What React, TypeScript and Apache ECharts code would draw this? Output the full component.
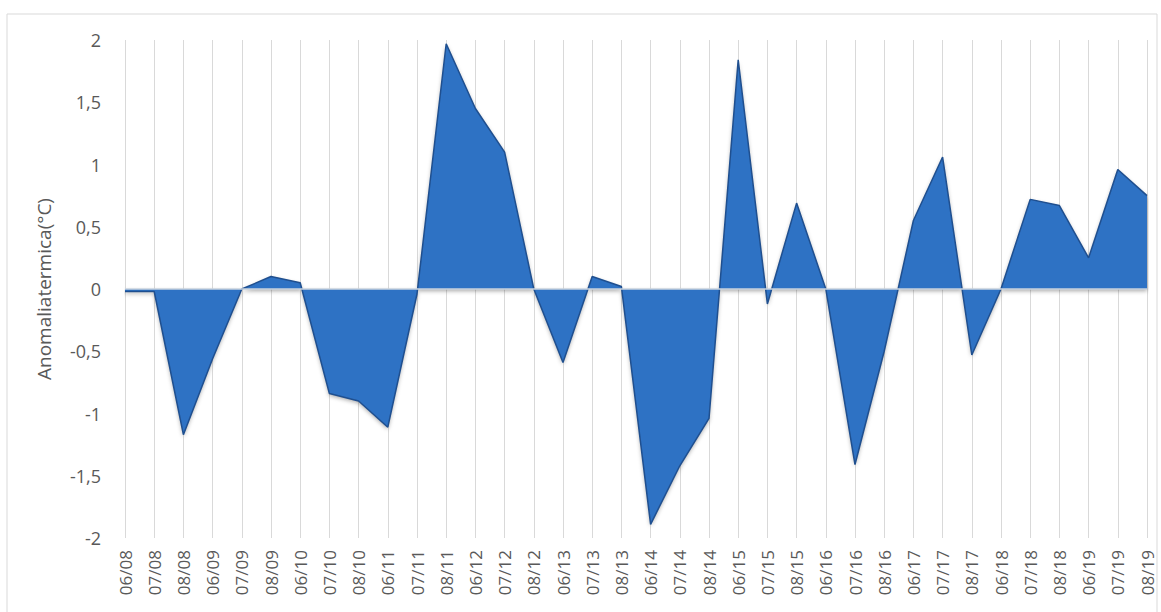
import React, { useEffect, useRef } from "react";
import * as echarts from "echarts";

const categories: string[] = [
  "06/08", "07/08", "08/08", "06/09", "07/09", "08/09", "06/10", "07/10", "08/10",
  "06/11", "07/11", "08/11", "06/12", "07/12", "08/12", "06/13", "07/13", "08/13",
  "06/14", "07/14", "08/14", "06/15", "07/15", "08/15", "06/16", "07/16", "08/16",
  "06/17", "07/17", "08/17", "06/18", "07/18", "08/18", "06/19", "07/19", "08/19",
];

const anomaly: number[] = [
  -0.02, -0.02, -1.17, -0.56, 0.0, 0.1, 0.05, -0.84, -0.9,
  -1.11, -0.04, 1.97, 1.45, 1.1, 0.0, -0.59, 0.1, 0.02,
  -1.89, -1.42, -1.04, 1.84, -0.12, 0.69, 0.0, -1.41, -0.5,
  0.55, 1.06, -0.53, 0.0, 0.72, 0.67, 0.25, 0.96, 0.75,
];

const yTicks = { min: -2, max: 2, interval: 0.5 };
const yAxisTitle = "Anomaliatermica(°C)";

export default function App() {
  const ref = useRef<HTMLDivElement>(null);

  useEffect(() => {
    if (!ref.current) return;
    const chart = echarts.init(ref.current, undefined, { renderer: "svg" });
    const font = "'Open Sans', 'Noto Sans', sans-serif";
    chart.setOption({
      animation: false,
      backgroundColor: "#ffffff",
      textStyle: { fontFamily: font },
      graphic: [
        {
          type: "rect",
          shape: { x: 7, y: 14, width: 1150, height: 600 },
          style: { fill: "none", stroke: "#d9d9d9", lineWidth: 1 },
          silent: true,
          z: -1,
        },
      ],
      grid: { left: 125, right: 14, top: 40, bottom: 74 },
      xAxis: {
        type: "category",
        data: categories,
        boundaryGap: false,
        axisLine: { show: false, onZero: false },
        axisTick: { show: false },
        axisLabel: {
          interval: 0,
          rotate: 90,
          color: "#595959",
          fontSize: 17,
          margin: 12,
          fontFamily: font,
        },
        splitLine: { show: true, lineStyle: { color: "#d9d9d9", width: 1 } },
      },
      yAxis: {
        type: "value",
        min: yTicks.min,
        max: yTicks.max,
        interval: yTicks.interval,
        name: yAxisTitle,
        nameLocation: "middle",
        nameGap: 72,
        nameTextStyle: { color: "#595959", fontSize: 19, fontFamily: font },
        axisLine: { show: false },
        axisTick: { show: false },
        splitLine: { show: false },
        axisLabel: {
          color: "#595959",
          fontSize: 18,
          margin: 24,
          fontFamily: font,
          formatter: (v: number) => String(v).replace(".", ","),
        },
      },
      series: [
        {
          type: "line",
          data: anomaly,
          symbol: "none",
          lineStyle: { color: "#1f4f8f", width: 1.5 },
          areaStyle: {
            color: "#2f72c4",
            opacity: 1,
            shadowColor: "rgba(0,0,0,0.35)",
            shadowBlur: 4,
            shadowOffsetY: 2,
          },
          markLine: {
            silent: true,
            symbol: "none",
            label: { show: false },
            lineStyle: { color: "#c9d3df", type: "solid", width: 1.5 },
            data: [{ yAxis: 0 }],
          },
        },
      ],
    });
    return () => chart.dispose();
  }, []);

  return (
    <div
      ref={ref}
      style={{ position: "absolute", left: 0, top: 0, width: 1161, height: 612 }}
    />
  );
}
